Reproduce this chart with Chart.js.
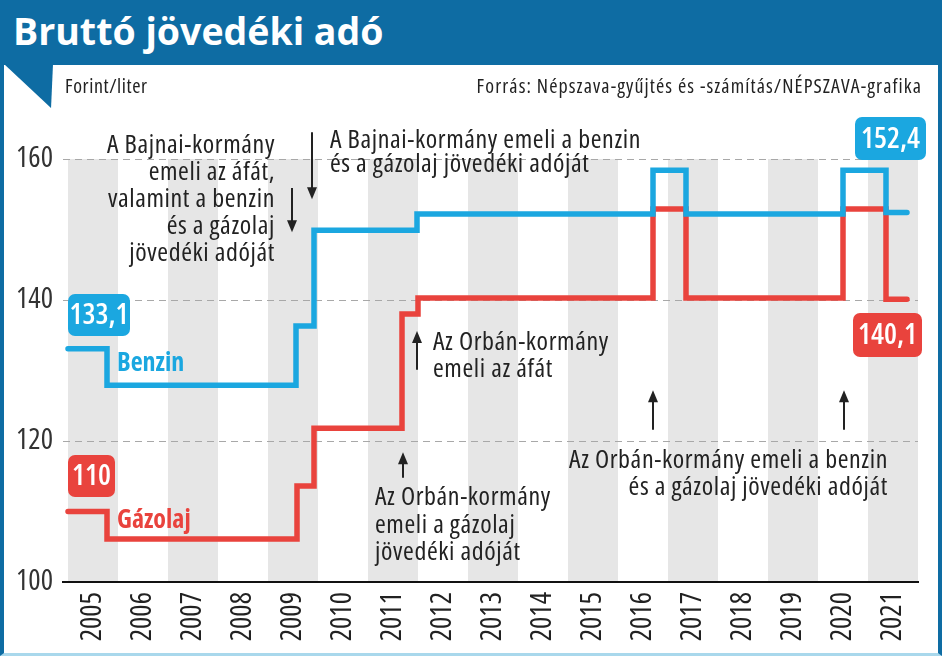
<!DOCTYPE html>
<html lang="hu">
<head>
<meta charset="utf-8">
<title>Bruttó jövedéki adó</title>
<script src="https://cdn.jsdelivr.net/npm/chart.js@4.4.1/dist/chart.umd.min.js"></script>
<style>
  html, body { margin: 0; padding: 0; background: #fff; }
  body { width: 944px; height: 658px; position: relative; overflow: hidden;
         font-family: 'Open Sans', sans-serif; }
  #chart { position: absolute; left: 0; top: 0; }
  .frame { position: absolute; left: 0; top: 0; width: 942px; height: 656px; box-sizing: border-box;
           border-left: 4px solid #0e6ca3; border-right: 4px solid #0e6ca3; border-bottom: 3px solid #a9d8ec;
           pointer-events: none; }
  .head { position: absolute; left: 0; top: 0; width: 942px; height: 65px; background: #0e6ca3; }
  .head h1 { margin: 0; position: absolute; left: 13px; top: 6px; font-size: 37.5px; line-height: 50px;
             font-weight: 700; color: #fff; }
  .flag { position: absolute; left: 4px; top: 64px; width: 49px; height: 44px; background: #0e6ca3;
          clip-path: polygon(0 0, 100% 0, 96% 100%); }
  .unit, .source { position: absolute; top: 74px; font-size: 20px; line-height: 24px; color: #222;
                   font-stretch: condensed; }
  .unit { left: 65px; letter-spacing: 0.6px; }
  .source { right: 22px; letter-spacing: 1.1px; }
</style>
</head>
<body>
<canvas id="chart" width="944" height="658"></canvas>
<div class="head"><h1>Bruttó jövedéki adó</h1></div>
<div class="flag"></div>
<div class="frame"></div>
<div class="unit">Forint/liter</div>
<div class="source">Forrás: Népszava-gyűjtés és -számítás/NÉPSZAVA-grafika</div>

<script>
// years shown on the axis
const years = [2005, 2006, 2007, 2008, 2009, 2010, 2011, 2012, 2013, 2014, 2015, 2016, 2017, 2018, 2019, 2020, 2021];
const yTicks = [100, 120, 140, 160];

// step points: time (fractional year) where a new value starts
const benzinTimes  = [2005, 2005.78, 2009.56, 2009.92, 2011.98, 2016.7, 2017.36, 2020.5, 2021.36, 2021.78];
const benzinValues = [133.1, 127.9, 136.3, 149.9, 152.2, 158.4, 152.2, 158.4, 152.4, 152.4];

const gazolajTimes  = [2005, 2005.78, 2009.58, 2009.92, 2011.68, 2012.0, 2016.7, 2017.36, 2020.5, 2021.36, 2021.78];
const gazolajValues = [110, 106.1, 113.6, 121.8, 138.0, 140.3, 152.9, 140.3, 152.9, 140.1, 140.1];

const BLUE = '#1ba7e0';
const RED = '#e9433d';
const FONT = "'Open Sans', sans-serif";

const notes = [
    { x: 275, y: 153, lh: 27, align: 'right',
      lines: ['A Bajnai-kormány', 'emeli az áfát,', 'valamint a benzin', 'és a gázolaj', 'jövedéki adóját'] },
    { x: 330, y: 148, lh: 24, align: 'left',
      lines: ['A Bajnai-kormány emeli a benzin', 'és a gázolaj jövedéki adóját'] },
    { x: 433, y: 350, lh: 27, align: 'left', lines: ['Az Orbán-kormány', 'emeli az áfát'] },
    { x: 375, y: 505, lh: 27.5, align: 'left', lines: ['Az Orbán-kormány', 'emeli a gázolaj', 'jövedéki adóját'] },
    { x: 888, y: 468, lh: 27, align: 'right',
      lines: ['Az Orbán-kormány emeli a benzin', 'és a gázolaj jövedéki adóját'] }
];

// arrows in data units: from -> to (head at "to")
const arrows = [
    { t: 2009.48, from: 155.9, to: 149.6 },
    { t: 2009.88, from: 163.8, to: 154.3 },
    { t: 2011.98, from: 130.1, to: 135.6 },
    { t: 2011.7, from: 114.8, to: 118.4 },
    { t: 2016.7, from: 121.6, to: 127.2 },
    { t: 2020.52, from: 121.6, to: 127.2 }
];

const boxes = [
    { text: '133,1', color: BLUE, left: 68, top: 294, w: 62, h: 42 },
    { text: '110', color: RED, left: 68, top: 455, w: 47, h: 42 },
    { text: '152,4', color: BLUE, left: 855, top: 117, w: 71, h: 43 },
    { text: '140,1', color: RED, left: 853, top: 313, w: 69, h: 44 }
];

const seriesLabels = [
    { text: 'Benzin', color: BLUE, x: 117, y: 371 },
    { text: 'Gázolaj', color: RED, x: 117, y: 528 }
];

function toPoints(times, values) {
    return times.map((t, i) => ({ x: t, y: values[i] }));
}

const bandsPlugin = {
    id: 'bands',
    beforeDraw(chart) {
        const { ctx, scales: { x, y } } = chart;
        ctx.save();
        ctx.fillStyle = '#e6e6e6';
        years.forEach(yr => {
            if ((yr - 2005) % 2 !== 0) return;
            const x1 = x.getPixelForValue(yr);
            const x2 = x.getPixelForValue(yr + 1);
            const top = y.getPixelForValue(160);
            const bottom = y.getPixelForValue(100);
            ctx.fillRect(x1, top, x2 - x1, bottom - top);
        });
        ctx.restore();
    }
};

const labelsPlugin = {
    id: 'labels',
    afterDraw(chart) {
        const { ctx, scales: { x, y } } = chart;
        ctx.save();

        // annotations
        ctx.fillStyle = '#222';
        ctx.font = 'condensed 26px ' + FONT;
        ctx.letterSpacing = '0.6px';
        ctx.textBaseline = 'alphabetic';
        notes.forEach(n => {
            ctx.textAlign = n.align;
            n.lines.forEach((line, i) => ctx.fillText(line, n.x, n.y + i * n.lh));
        });
        ctx.letterSpacing = '0px';

        // arrows
        ctx.strokeStyle = '#222';
        ctx.lineWidth = 2;
        arrows.forEach(a => {
            const px = x.getPixelForValue(a.t);
            const y1 = y.getPixelForValue(a.from);
            const y2 = y.getPixelForValue(a.to);
            const dir = y2 > y1 ? 1 : -1;
            ctx.beginPath();
            ctx.moveTo(px, y1);
            ctx.lineTo(px, y2 - dir * 8);
            ctx.stroke();
            ctx.beginPath();
            ctx.moveTo(px, y2);
            ctx.lineTo(px - 5, y2 - dir * 12);
            ctx.lineTo(px + 5, y2 - dir * 12);
            ctx.closePath();
            ctx.fill();
        });

        // value boxes
        boxes.forEach(b => {
            ctx.fillStyle = b.color;
            ctx.beginPath();
            ctx.roundRect(b.left, b.top, b.w, b.h, 7);
            ctx.fill();
            ctx.fillStyle = '#fff';
            ctx.font = 'condensed 600 29px ' + FONT;
            ctx.textAlign = 'center';
            ctx.textBaseline = 'middle';
            ctx.fillText(b.text, b.left + b.w / 2, b.top + b.h / 2 + 1);
        });

        // series names
        ctx.textAlign = 'left';
        ctx.textBaseline = 'alphabetic';
        ctx.font = 'condensed 700 26px ' + FONT;
        seriesLabels.forEach(s => {
            ctx.fillStyle = s.color;
            ctx.fillText(s.text, s.x, s.y);
        });

        ctx.restore();
    }
};

new Chart(document.getElementById('chart'), {
    type: 'line',
    data: {
        datasets: [
            {
                label: 'Benzin',
                data: toPoints(benzinTimes, benzinValues),
                borderColor: BLUE,
                borderWidth: 5.5,
                stepped: true,
                pointRadius: 0,
                borderCapStyle: 'round',
                borderJoinStyle: 'miter',
                fill: false
            },
            {
                label: 'Gázolaj',
                data: toPoints(gazolajTimes, gazolajValues),
                borderColor: RED,
                borderWidth: 5.5,
                stepped: true,
                pointRadius: 0,
                borderCapStyle: 'round',
                borderJoinStyle: 'miter',
                fill: false
            }
        ]
    },
    options: {
        responsive: false,
        animation: false,
        layout: { padding: { left: 3, top: 159, right: 26, bottom: 6 } },
        plugins: {
            legend: { display: false },
            tooltip: { enabled: false }
        },
        scales: {
            x: {
                type: 'linear',
                min: 2004.9,
                max: 2022,
                afterBuildTicks: scale => { scale.ticks = years.map(v => ({ value: v + 0.5 })); },
                afterFit: scale => { scale.height = 70; },
                grid: { display: false, drawTicks: false },
                border: { display: true, color: '#111', width: 2 },
                ticks: {
                    autoSkip: false,
                    maxRotation: 90,
                    minRotation: 90,
                    padding: 10,
                    color: '#222',
                    // weight slot carries the width keyword (style is validated by Chart.js)
                    font: { family: FONT, size: 29, weight: 'condensed' },
                    callback: v => String(Math.floor(v))
                }
            },
            y: {
                min: 100,
                max: 160,
                afterBuildTicks: scale => { scale.ticks = yTicks.map(v => ({ value: v })); },
                afterFit: scale => { scale.width = 60; },
                grid: {
                    drawTicks: false,
                    color: c => c.tick && c.tick.value === 100 ? 'rgba(0,0,0,0)' : '#a8a8a8',
                    lineWidth: 1
                },
                border: { display: false, dash: [7, 5] },
                ticks: {
                    padding: 10,
                    color: '#333',
                    font: { family: FONT, size: 29, weight: 'condensed' }
                }
            }
        }
    },
    plugins: [bandsPlugin, labelsPlugin]
});
</script>
</body>
</html>
